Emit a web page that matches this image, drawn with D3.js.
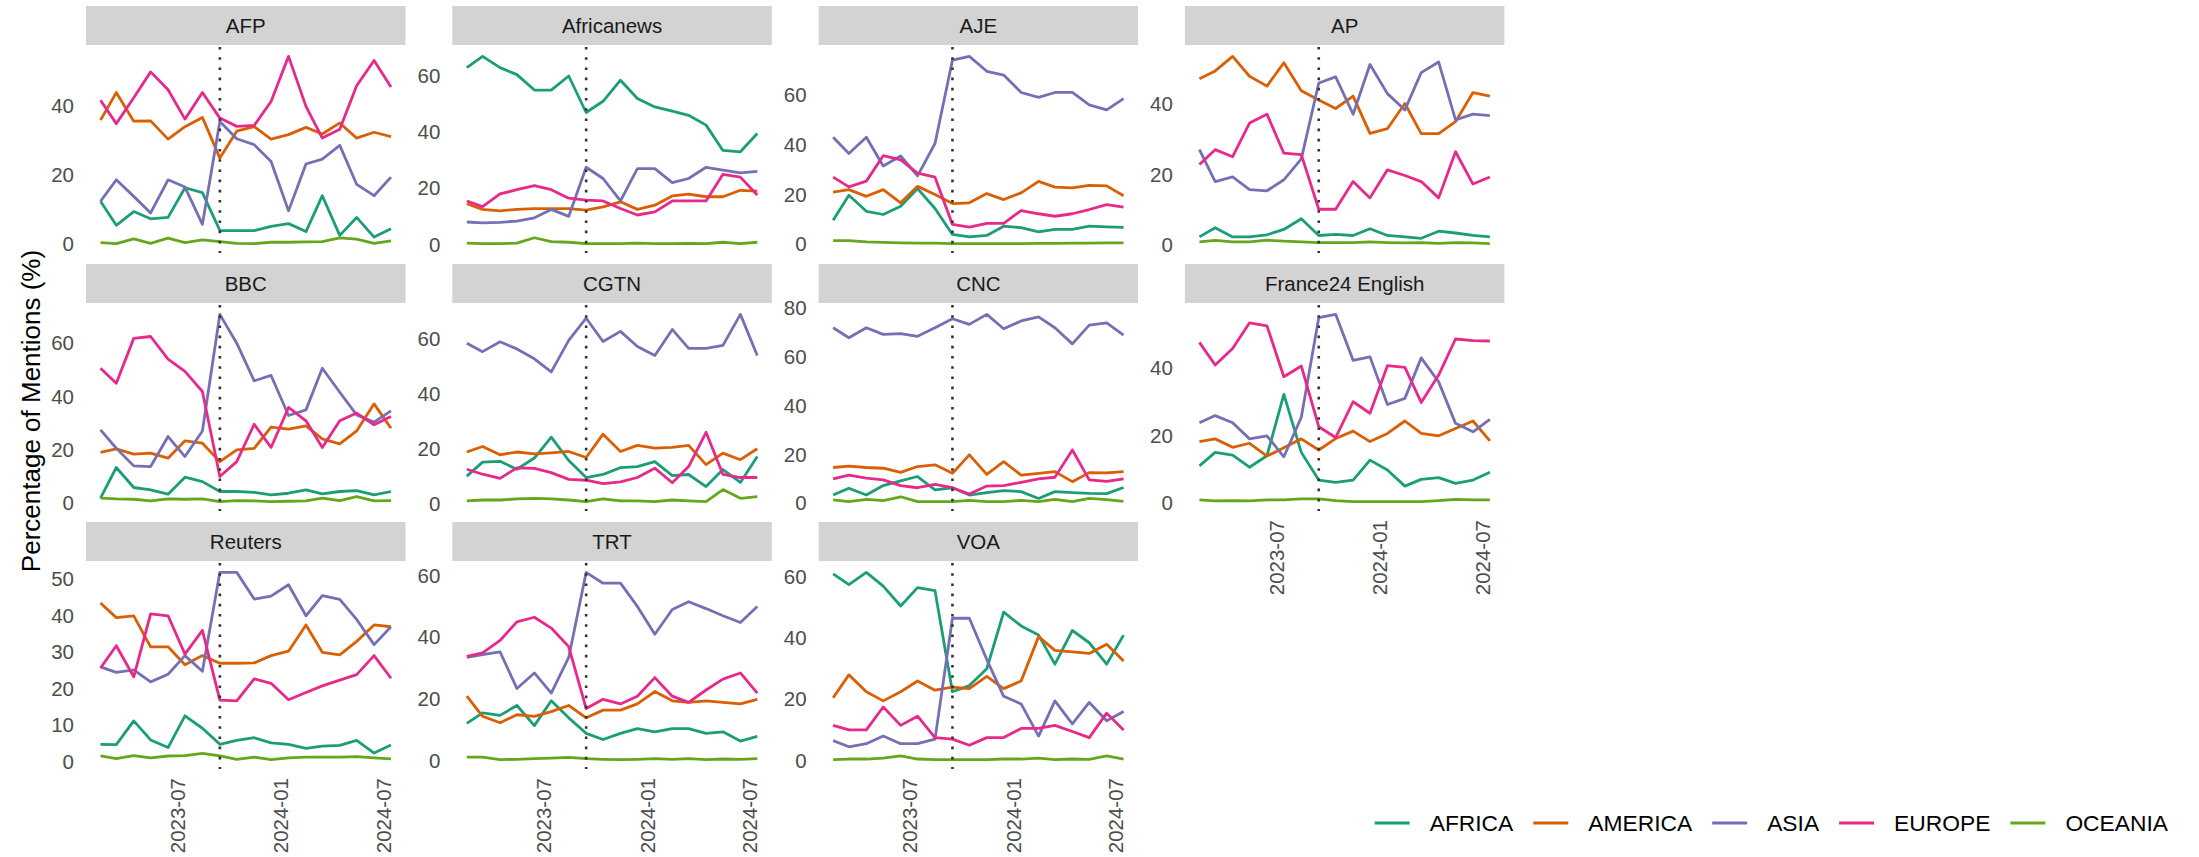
<!DOCTYPE html>
<html lang="en">
<head>
<meta charset="utf-8">
<title>Mentions by region</title>
<script src="https://cdn.jsdelivr.net/npm/d3@7"></script>
<style>
  body { margin: 0; background: #fff; }
  text { font-family: "Liberation Sans", Arial, sans-serif; }
</style>
</head>
<body>
<script>
// months (one point per month)
var months = ["2023-02-15", "2023-03-15", "2023-04-15", "2023-05-15", "2023-06-15", "2023-07-15",
              "2023-08-15", "2023-09-15", "2023-10-15", "2023-11-15", "2023-12-15", "2024-01-15",
              "2024-02-15", "2024-03-15", "2024-04-15", "2024-05-15", "2024-06-15", "2024-07-15"];
var markerMonth = "2023-09-15";
var xTickLabels = ["2023-07", "2024-01", "2024-07"];

var regions = ["AFRICA", "AMERICA", "ASIA", "EUROPE", "OCEANIA"];
var colors = ["#1B9E77", "#D95F02", "#7570B3", "#E7298A", "#66A61E"];

var sources = ["AFP", "Africanews", "AJE", "AP", "BBC", "CGTN", "CNC", "France24 English", "Reuters", "TRT", "VOA"];

// one row per region, in the order of `regions`
var afp = [
    [12.5, 5.5, 9.5, 7.4, 7.8, 16.4, 15, 4, 4, 4, 5.2, 6, 3.7, 14.1, 2.6, 7.8, 2.1, 4.5],
    [36, 44, 35.7, 35.8, 30.5, 34.1, 36.8, 25, 32.8, 34.1, 30.5, 31.8, 33.9, 32, 35.2, 30.8, 32.5, 31.2],
    [12.5, 18.7, 13.9, 9.1, 18.7, 16.6, 5.8, 35.6, 30.6, 28.9, 24, 9.7, 23.3, 24.7, 28.7, 17.4, 14.1, 19.5],
    [41.8, 35, 42.5, 50, 44.8, 36.3, 44, 36.6, 34.2, 34.5, 41.4, 54.5, 40, 30.8, 33.4, 46, 53.3, 45.6],
    [0.5, 0.2, 1.6, 0.3, 1.8, 0.5, 1.3, 0.8, 0.3, 0.2, 0.6, 0.6, 0.7, 0.8, 1.9, 1.5, 0.3, 1]
];
var africanews = [
    [63, 67, 63, 60.5, 55, 55, 60, 47, 51, 58.5, 52, 49, 47.5, 46, 42.5, 33.5, 33, 39.5],
    [14.5, 12.5, 12, 12.5, 12.8, 12.8, 12.8, 12.2, 13.4, 15.2, 12.5, 14, 17.3, 17.9, 17, 17, 19.3, 19],
    [8, 7.7, 7.9, 8.3, 9.5, 12.5, 10, 27.5, 23.5, 15.5, 27, 27, 22, 23.5, 27.5, 26.5, 25.5, 26],
    [15.5, 13.5, 18, 19.5, 21, 19.5, 16.5, 15.8, 15.5, 12.8, 10.5, 11.6, 15.5, 15.5, 15.5, 25, 24, 17.6],
    [0.5, 0.3, 0.3, 0.5, 2.4, 1, 0.8, 0.3, 0.3, 0.3, 0.5, 0.3, 0.3, 0.4, 0.3, 0.8, 0.3, 0.8]
];
var aje = [
    [9.7, 19.7, 13.3, 12, 15.3, 22.4, 14.4, 4, 3, 3.6, 7.3, 6.7, 5, 6, 6, 7.3, 7, 6.8],
    [21, 22, 19.3, 22, 16.7, 23.3, 20, 16.4, 16.7, 20.4, 18, 20.7, 25.3, 23, 22.7, 23.7, 23.5, 19.5],
    [43, 36.5, 43, 31.5, 35.5, 27.5, 40.5, 74, 75.5, 69.5, 68, 61, 59, 61, 61, 56, 54, 58.5],
    [27, 23.1, 25.4, 35.6, 33.9, 28.6, 27, 8, 6.9, 8.4, 8.4, 13.6, 12.3, 11.3, 12.3, 14, 16, 15],
    [1.5, 1.5, 1, 0.8, 0.6, 0.5, 0.5, 0.3, 0.3, 0.3, 0.3, 0.3, 0.4, 0.4, 0.5, 0.5, 0.6, 0.6]
];
var ap = [
    [2.4, 5, 2.4, 2.4, 3, 4.5, 7.5, 2.8, 3.1, 2.8, 4.7, 2.8, 2.4, 2, 4, 3.5, 2.8, 2.4],
    [47, 49.2, 53.3, 47.7, 44.9, 51.5, 43.6, 41, 38.6, 42.1, 31.6, 32.9, 40, 31.5, 31.5, 34.9, 43.1, 42.1],
    [27, 18, 19.3, 15.7, 15.4, 18.5, 24.4, 45.8, 47.5, 37, 51, 42.8, 38.2, 48.7, 51.7, 35.4, 37, 36.6],
    [22.8, 27, 25, 34.5, 37, 26, 25.6, 10.2, 10.2, 18, 13.4, 21.3, 19.7, 18, 13.4, 26.4, 17.3, 19.3],
    [1, 1.4, 1, 1, 1.5, 1.2, 1, 0.8, 0.8, 0.8, 1, 0.8, 0.7, 0.8, 0.6, 0.8, 0.7, 0.5]
];
var bbc = [
    [1.9, 13.4, 5.9, 5, 3.4, 9.75, 8.1, 4.4, 4.4, 4.1, 3.1, 3.75, 5, 3.5, 4.4, 4.75, 3.1, 4.4],
    [19.1, 20.4, 18.4, 18.75, 16.9, 23.4, 22.5, 15.6, 20, 20.6, 28.5, 27.75, 29, 24.1, 22.25, 27.1, 37.25, 28.1],
    [27.5, 20.6, 14, 13.75, 25, 17.5, 27.1, 70.8, 60, 45.9, 47.9, 32.9, 35, 50.6, 41.6, 33.1, 30.4, 34.6],
    [50.6, 45, 61.8, 62.5, 54, 49.4, 41.9, 10, 15.6, 29.6, 20.9, 35.9, 30.9, 20.9, 30.9, 33.8, 29.4, 32.5],
    [1.9, 1.6, 1.5, 0.9, 1.6, 1.5, 1.6, 0.6, 1, 0.9, 0.6, 0.75, 0.9, 1.9, 1, 2.5, 0.9, 1]
];
var cgtn = [
    [10, 15.1, 15.4, 12.5, 16.6, 24.2, 15.7, 9.5, 10.6, 13.1, 13.5, 15.3, 10.2, 10.6, 6.2, 12.4, 7.7, 17.2],
    [18.8, 20.8, 17.8, 18.8, 18.1, 18.5, 19, 16.8, 25.3, 19, 21.2, 20.2, 20.5, 21.2, 14.2, 18.4, 16, 20],
    [58.5, 55.4, 59, 56.4, 52.8, 48, 59.5, 67.6, 59.1, 62.8, 57.3, 54, 63.5, 56.6, 56.6, 57.7, 69, 54],
    [12.5, 10.7, 9.2, 13, 12.8, 11.3, 8.8, 8.5, 7.3, 7.9, 9.5, 12.9, 7.6, 13.5, 26, 10.6, 9.5, 9.5],
    [1, 1.3, 1.3, 1.7, 1.9, 1.7, 1.3, 0.7, 1.7, 1, 1, 0.7, 1.3, 1, 0.7, 5.1, 1.9, 2.5]
];
var cnc = [
    [3.4, 6.2, 3.4, 7.3, 9.2, 11, 5.5, 6.4, 3.4, 4.4, 5.2, 4.8, 2, 4.8, 4.4, 4.1, 4, 6.5],
    [14.7, 15.3, 14.7, 14.4, 12.7, 15.1, 15.8, 12.3, 19.9, 11.9, 17.1, 11.6, 12.3, 13, 8.9, 12.6, 12.5, 13],
    [72, 67.9, 72, 69.3, 69.6, 68.5, 72, 75.7, 73.4, 77.5, 71.6, 74.8, 76.5, 72, 65.4, 73.1, 74, 69],
    [10, 11.6, 10.3, 9.6, 7.3, 6.4, 7.8, 6.4, 3.8, 7.1, 7.3, 8.6, 10, 10.7, 21.9, 9.6, 9, 10],
    [1.4, 0.7, 1.6, 1.1, 2.7, 0.7, 0.7, 0.7, 1.2, 0.7, 0.7, 1.2, 0.7, 1.6, 0.7, 2, 1.5, 0.8]
];
var france24 = [
    [11.1, 15.1, 14.3, 10.7, 14.1, 32.3, 15.1, 6.9, 6.2, 6.9, 12.8, 9.9, 5.1, 7.1, 7.6, 5.9, 6.9, 9.2],
    [18.3, 19.1, 16.6, 17.8, 14, 16.5, 19.1, 15.8, 19.2, 21.4, 18.3, 20.7, 24.4, 20.7, 20, 22.2, 24.4, 18.5],
    [23.9, 26, 23.9, 19.1, 20, 13.8, 25.5, 55, 56, 42.4, 43.4, 29.3, 31.1, 43.1, 36, 23.7, 21.2, 24.9],
    [47.7, 41, 45.9, 53.5, 52.6, 37.5, 40.7, 22.7, 19.5, 30.1, 26.7, 40.8, 40.3, 29.9, 38, 48.7, 48.2, 48.1],
    [1, 0.7, 0.8, 0.7, 1, 1, 1.3, 1.3, 0.8, 0.5, 0.5, 0.5, 0.5, 0.5, 0.8, 1.2, 1, 1]
];
var reuters = [
    [4.8, 4.7, 11.2, 6, 3.9, 12.6, 9.2, 4.8, 5.9, 6.6, 5.2, 4.8, 3.7, 4.3, 4.5, 5.9, 2.4, 4.6],
    [43.5, 39.5, 40, 31.5, 31.5, 26.6, 29.1, 27, 27, 27.1, 29.1, 30.3, 37.5, 30, 29.3, 33, 37.5, 37],
    [26, 24.5, 25.2, 21.9, 24, 29.1, 24.8, 51.9, 51.9, 44.6, 45.4, 48.5, 40, 45.5, 44.5, 39, 32.1, 37],
    [25.7, 31.8, 23.3, 40.5, 40, 29.5, 36, 16.9, 16.7, 22.7, 21.5, 17, 19, 20.8, 22.4, 23.9, 29.1, 22.9],
    [1.6, 0.9, 1.7, 1.1, 1.6, 1.7, 2.3, 1.6, 0.7, 1.3, 0.6, 1.1, 1.3, 1.3, 1.3, 1.4, 1.1, 0.8]
];
var trt = [
    [12.2, 15.6, 14.8, 18, 11.5, 19.5, 14, 9, 7, 9, 10.5, 9.5, 10.5, 10.5, 9, 9.5, 6.5, 8],
    [21, 14.5, 12.4, 15, 14.5, 16, 18, 14, 16.5, 16.5, 18.5, 22.5, 19.5, 19, 19.5, 19, 18.5, 20],
    [33.5, 34.4, 35.3, 23.5, 28.5, 22, 33.5, 61, 57.5, 57.5, 50, 41, 49, 51.5, 49.3, 47, 44.8, 50],
    [33.9, 35, 39, 45, 46.5, 43, 37, 17, 20, 18.5, 21, 27, 21, 19, 23, 26.5, 28.5, 22],
    [1.3, 1.3, 0.5, 0.6, 0.8, 1, 1.2, 0.8, 0.6, 0.5, 0.6, 0.8, 0.6, 0.8, 0.5, 0.7, 0.6, 0.8]
];
var voa = [
    [61, 57.5, 61.5, 57, 50.5, 56.5, 55.5, 22.5, 24.5, 30, 48.5, 44, 41, 31.5, 42.5, 38.5, 31.5, 41],
    [20.5, 28, 22.5, 19.5, 22.5, 26, 23, 24, 23.5, 27.5, 23.5, 26, 40.5, 36, 35.5, 35, 38, 32.5],
    [6.5, 4.5, 5.5, 8, 5.5, 5.5, 7, 46.5, 46.5, 33, 21, 18.5, 8, 19.5, 12, 19, 13, 16],
    [11.5, 10, 10, 17.5, 11.5, 14.5, 7.5, 7, 5, 7.5, 7.5, 10.5, 10.5, 11.5, 9.5, 7.5, 15.5, 10],
    [0.3, 0.5, 0.5, 0.8, 1.5, 0.5, 0.3, 0.3, 0.3, 0.3, 0.5, 0.5, 0.8, 0.3, 0.5, 0.4, 1.5, 0.5]
];
var seriesBySource = [afp, africanews, aje, ap, bbc, cgtn, cnc, france24, reuters, trt, voa];

// y breaks per facet, same order as `sources`
var yBreaks = [[0, 20, 40], [0, 20, 40, 60], [0, 20, 40, 60], [0, 20, 40],
               [0, 20, 40, 60], [0, 20, 40, 60], [0, 20, 40, 60, 80], [0, 20, 40],
               [0, 10, 20, 30, 40, 50], [0, 20, 40, 60], [0, 20, 40, 60]];

//Width and height
var w = 2199;
var h = 857;
var ncol = 4;
var panelW = 319.5, panelH = 206;
var stripH = 39;
var colStep = 366.3, rowStep = 258;
var left0 = 86, top0 = 6;

var parseDate = d3.timeParse("%Y-%m-%d");
var dates = months.map(parseDate);
var markerDate = parseDate(markerMonth);
var xTicks = xTickLabels.map(function(s) { return parseDate(s + "-01"); });

var svg = d3.select("body").append("svg")
    .attr("width", w).attr("height", h);

// time scale with ggplot-style 5% expansion
var t0 = dates[0].getTime(), t1 = dates[dates.length - 1].getTime();
var tPad = (t1 - t0) * 0.05;
var x = d3.scaleTime()
    .domain([new Date(t0 - tPad), new Date(t1 + tPad)])
    .range([0, panelW]);

var fmt = d3.timeFormat("%Y-%m");

sources.forEach(function(name, i) {
    var r = Math.floor(i / ncol), c = i % ncol;
    var gx = left0 + c * colStep;
    var sy = top0 + r * rowStep;
    var py = sy + stripH + 2;
    var data = seriesBySource[i];

    var all = d3.merge(data);
    var lo = d3.min(all), hi = d3.max(all);
    var pad = (hi - lo) * 0.05;
    var y = d3.scaleLinear().domain([lo - pad, hi + pad]).range([panelH, 0]);

    // strip
    svg.append("rect")
        .attr("x", gx).attr("y", sy)
        .attr("width", panelW).attr("height", stripH)
        .attr("fill", "#D3D3D3");
    svg.append("text")
        .attr("x", gx + panelW / 2).attr("y", sy + stripH / 2)
        .attr("dy", "0.35em")
        .attr("text-anchor", "middle")
        .attr("font-size", 20.5)
        .attr("fill", "#1A1A1A")
        .text(name);

    var g = svg.append("g").attr("transform", "translate(" + gx + "," + py + ")");

    // y axis labels
    var ya = g.append("g")
        .call(d3.axisLeft(y).tickValues(yBreaks[i]).tickSize(0).tickPadding(12));
    ya.select(".domain").remove();
    ya.selectAll("text")
        .attr("font-size", 20.5)
        .attr("font-family", "Liberation Sans, Arial, sans-serif")
        .attr("fill", "#4D4D4D");

    // x axis only under the last panel of each column
    var below = i + ncol;
    if (below >= sources.length) {
        var xa = g.append("g")
            .attr("transform", "translate(0," + panelH + ")")
            .call(d3.axisBottom(x).tickValues(xTicks).tickFormat(fmt).tickSize(0).tickPadding(0));
        xa.select(".domain").remove();
        xa.selectAll("text")
            .attr("font-size", 20.5)
            .attr("font-family", "Liberation Sans, Arial, sans-serif")
            .attr("fill", "#4D4D4D")
            .attr("transform", "rotate(-90)")
            .attr("text-anchor", "end")
            .attr("x", -9)
            .attr("y", 0)
            .attr("dy", "0.35em");
    }

    var line = d3.line()
        .x(function(d, k) { return x(dates[k]); })
        .y(function(d) { return y(d); });

    g.selectAll("path.series")
        .data(data)
        .enter()
        .append("path")
        .attr("class", "series")
        .attr("d", line)
        .attr("fill", "none")
        .attr("stroke", function(d, k) { return colors[k]; })
        .attr("stroke-width", 2.8)
        .attr("stroke-linejoin", "round");

    // dotted marker
    g.append("line")
        .attr("x1", x(markerDate)).attr("x2", x(markerDate))
        .attr("y1", 0).attr("y2", panelH)
        .attr("stroke", "#333")
        .attr("stroke-width", 2.6)
        .attr("stroke-dasharray", "2.6,7.6");
});

// y axis title
svg.append("text")
    .attr("transform", "translate(31,411) rotate(-90)")
    .attr("dy", "0.35em")
    .attr("text-anchor", "middle")
    .attr("font-size", 26)
    .attr("fill", "#000")
    .text("Percentage of Mentions (%)");

// legend, right aligned
var legend = svg.append("g");
var legendY = 823, keyW = 35, keyGap = 20, itemGap = 20;
var cx = 0;
regions.forEach(function(reg, k) {
    var it = legend.append("g").attr("transform", "translate(" + cx + ",0)");
    it.append("line")
        .attr("x1", 0).attr("x2", keyW)
        .attr("y1", 0).attr("y2", 0)
        .attr("stroke", colors[k]).attr("stroke-width", 3.2);
    var t = it.append("text")
        .attr("x", keyW + keyGap).attr("y", 0)
        .attr("dy", "0.35em")
        .attr("font-size", 22.8)
        .attr("fill", "#000")
        .text(reg);
    cx += keyW + keyGap + t.node().getComputedTextLength() + itemGap;
});
var legendW = cx - itemGap;
legend.attr("transform", "translate(" + (2168 - legendW) + "," + legendY + ")");
</script>
</body>
</html>
